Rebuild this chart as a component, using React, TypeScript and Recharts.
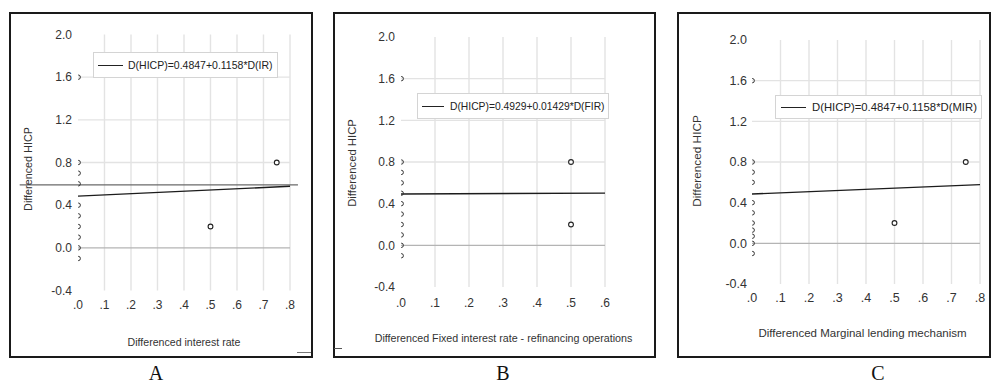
import React from 'react';
import { ScatterChart, Scatter, XAxis, YAxis, ReferenceLine, Legend } from 'recharts';

const FONT = '"Liberation Sans", Arial, Helvetica, sans-serif';
const SERIF = '"Liberation Serif", "Times New Roman", serif';

// ---------- shared ----------
const yTickValues = [-0.4, 0, 0.4, 0.8, 1.2, 1.6, 2.0];
const yGridValues = [0.8, 1.2, 1.6];
const yTitleText = 'Differenced HICP';

// ---------- Panel A ----------
const xTicksA = [0, 0.1, 0.2, 0.3, 0.4, 0.5, 0.6, 0.7, 0.8];
const edgeYA = [1.6, 0.8, 0.7, 0.6, 0.4, 0.3, 0.2, 0.1, 0.0, -0.1];
const innerXA = [0.5, 0.75];
const innerYA = [0.2, 0.8];
const fitXA = [0, 0.8];
const fitYA = [0.4847, 0.5773];
const legendA = 'D(HICP)=0.4847+0.1158*D(IR)';
const xTitleA = 'Differenced interest rate';
const strayA = { y: 0.59, x1: -0.22, x2: 0.83 };

// ---------- Panel B ----------
const xTicksB = [0, 0.1, 0.2, 0.3, 0.4, 0.5, 0.6];
const edgeYB = [1.6, 0.8, 0.7, 0.6, 0.5, 0.4, 0.3, 0.2, 0.1, 0.0, -0.1];
const innerXB = [0.5, 0.5];
const innerYB = [0.8, 0.2];
const fitXB = [0, 0.6];
const fitYB = [0.4929, 0.5015];
const legendB = 'D(HICP)=0.4929+0.01429*D(FIR)';
const xTitleB = 'Differenced Fixed interest rate - refinancing operations';

// ---------- Panel C ----------
const xTicksC = [0, 0.1, 0.2, 0.3, 0.4, 0.5, 0.6, 0.7, 0.8];
const edgeYC = [1.6, 0.8, 0.7, 0.6, 0.4, 0.3, 0.2, 0.13, 0.07, 0.0, -0.1];
const innerXC = [0.5, 0.75];
const innerYC = [0.2, 0.8];
const fitXC = [0, 0.8];
const fitYC = [0.4847, 0.5773];
const legendC = 'D(HICP)=0.4847+0.1158*D(MIR)';
const xTitleC = 'Differenced Marginal lending mechanism';

const panelLabels = ['A', 'B', 'C'];

// ---------- layout (page coordinates) ----------
const layoutA = {
  box: { l: 9, t: 12, w: 304, h: 346 },
  plot: { l: 78, r: 290, t: 34.5, b: 290.5 },
  tickFont: 12, yTickGap: 6, xTickCenter: 305,
  yTitle: { x: 28, y: 169, font: 10.8 },
  xTitle: { x: 184, y: 342, font: 10.6 },
  legend: { l: 93, t: 52, w: 185, h: 26, lineL: 5, lineW: 25, gap: 5, font: 10.5 },
  labelX: 156,
};
const layoutB = {
  box: { l: 333, t: 12, w: 323, h: 346 },
  plot: { l: 401, r: 605, t: 37, b: 287 },
  tickFont: 12, yTickGap: 6, xTickCenter: 303,
  yTitle: { x: 352, y: 163, font: 11.3 },
  xTitle: { x: 503.5, y: 338, font: 10.7 },
  legend: { l: 417, t: 93, w: 192, h: 26, lineL: 5, lineW: 22, gap: 6, font: 10.3 },
  labelX: 503,
};
const layoutC = {
  box: { l: 677, t: 12, w: 314, h: 346 },
  plot: { l: 752, r: 980, t: 40, b: 284 },
  tickFont: 12.5, yTickGap: 5, xTickCenter: 298,
  yTitle: { x: 697, y: 161, font: 11.8 },
  xTitle: { x: 862.5, y: 333, font: 11.5 },
  legend: { l: 775, t: 95, w: 207, h: 24, lineL: 6, lineW: 25, gap: 6, font: 11.3 },
  labelX: 878,
};

const Y_AXIS_W = 40;
const X_AXIS_H = 50;

const fmtX = (v: number) => v.toFixed(1).replace(/^0/, '');
const fmtY = (v: number) => v.toFixed(1);

const EdgeMark = (props: any) => {
  const { cx, cy } = props;
  return (
    <path
      d={`M${cx + 0.2},${cy - 2.2} A2.2,2.2 0 0 1 ${cx + 0.2},${cy + 2.2}`}
      fill="none"
      stroke="#333"
      strokeWidth={1}
    />
  );
};
const RingMark = (props: any) => {
  const { cx, cy } = props;
  return <circle cx={cx} cy={cy} r={2.4} fill="#fff" stroke="#222" strokeWidth={1.1} />;
};
const NoMark = () => <g />;

function Panel(props: any) {
  const { layout, xTicks, edgeY, innerX, innerY, fitX, fitY, legendText, xTitle, stray } = props;
  const { box, plot } = layout;
  const margin = {
    top: plot.t - box.t,
    left: plot.l - box.l - Y_AXIS_W,
    right: box.l + box.w - plot.r,
    bottom: box.t + box.h - plot.b - X_AXIS_H,
  };
  const edgePts = edgeY.map((y: number) => ({ x: 0, y }));
  const innerPts = innerX.map((x: number, i: number) => ({ x, y: innerY[i] }));
  const fitPts = fitX.map((x: number, i: number) => ({ x, y: fitY[i] }));
  const xMax = xTicks[xTicks.length - 1];
  const tickStyle = { fontSize: layout.tickFont, fill: '#333', fontFamily: FONT };

  const renderXTitle = () => (
    <text
      x={layout.xTitle.x - box.l}
      y={layout.xTitle.y - box.t}
      textAnchor="middle"
      dominantBaseline="central"
      fontFamily={FONT}
      fontSize={layout.xTitle.font}
      fill="#333"
    >
      {xTitle}
    </text>
  );
  const renderYTitle = () => {
    const x = layout.yTitle.x - box.l;
    const y = layout.yTitle.y - box.t;
    return (
      <text
        x={x}
        y={y}
        transform={`rotate(-90 ${x} ${y})`}
        textAnchor="middle"
        dominantBaseline="central"
        fontFamily={FONT}
        fontSize={layout.yTitle.font}
        fill="#333"
      >
        {yTitleText}
      </text>
    );
  };
  const lg = layout.legend;
  const renderLegend = () => (
    <div
      style={{
        boxSizing: 'border-box',
        width: lg.w,
        height: lg.h,
        border: '1px solid #d4d4d4',
        background: '#fff',
        display: 'flex',
        alignItems: 'center',
        fontFamily: FONT,
        fontSize: lg.font,
        color: '#222',
        whiteSpace: 'nowrap',
      }}
    >
      <span
        style={{
          display: 'inline-block',
          width: lg.lineW,
          height: 0,
          borderTop: '1.3px solid #222',
          marginLeft: lg.lineL - 1,
          marginRight: lg.gap,
        }}
      />
      <span>{legendText}</span>
    </div>
  );

  return (
    <div style={{ position: 'absolute', left: box.l, top: box.t, width: box.w, height: box.h }}>
      <ScatterChart width={box.w} height={box.h} margin={margin}>
        <XAxis
          type="number"
          dataKey="x"
          domain={[0, xMax]}
          ticks={xTicks}
          interval={0}
          tickFormatter={fmtX}
          axisLine={false}
          tickLine={false}
          tickSize={0}
          tickMargin={layout.xTickCenter - plot.b - 0.36 * layout.tickFont}
          height={X_AXIS_H}
          tick={tickStyle}
          label={renderXTitle}
        />
        <YAxis
          type="number"
          dataKey="y"
          domain={[-0.4, 2.0]}
          ticks={yTickValues}
          interval={0}
          tickFormatter={fmtY}
          axisLine={false}
          tickLine={false}
          tickSize={0}
          tickMargin={layout.yTickGap}
          width={Y_AXIS_W}
          tick={tickStyle}
          label={renderYTitle}
        />
        {xTicks.slice(1).map((v: number) => (
          <ReferenceLine key={'vx' + v} x={v} stroke="#e3e3e3" strokeWidth={1.4} />
        ))}
        {yGridValues.map((v) => (
          <ReferenceLine key={'hy' + v} y={v} stroke="#e3e3e3" strokeWidth={1.4} />
        ))}
        <ReferenceLine y={0} stroke="#b4b4b4" strokeWidth={1.3} />
        {stray && (
          <ReferenceLine
            segment={[
              { x: stray.x1, y: stray.y },
              { x: stray.x2, y: stray.y },
            ]}
            ifOverflow="visible"
            stroke="#6a6a6a"
            strokeWidth={1.2}
          />
        )}
        <Scatter
          data={fitPts}
          line={{ stroke: '#1c1c1c', strokeWidth: 1.4 }}
          shape={NoMark}
          legendType="none"
          isAnimationActive={false}
        />
        <Scatter data={edgePts} shape={EdgeMark} isAnimationActive={false} />
        <Scatter data={innerPts} shape={RingMark} isAnimationActive={false} />
        <Legend
          layout="horizontal"
          verticalAlign="middle"
          align="center"
          content={renderLegend}
          wrapperStyle={{ left: lg.l - box.l, top: lg.t - box.t, width: lg.w, height: lg.h }}
        />
      </ScatterChart>
    </div>
  );
}

const layouts = [layoutA, layoutB, layoutC];

export default function App() {
  return (
    <div style={{ position: 'absolute', left: 0, top: 0, width: 992, height: 385, background: '#fff', overflow: 'hidden' }}>
      <Panel layout={layoutA} xTicks={xTicksA} edgeY={edgeYA} innerX={innerXA} innerY={innerYA}
        fitX={fitXA} fitY={fitYA} legendText={legendA} xTitle={xTitleA} stray={strayA} />
      <Panel layout={layoutB} xTicks={xTicksB} edgeY={edgeYB} innerX={innerXB} innerY={innerYB}
        fitX={fitXB} fitY={fitYB} legendText={legendB} xTitle={xTitleB} />
      <Panel layout={layoutC} xTicks={xTicksC} edgeY={edgeYC} innerX={innerXC} innerY={innerYC}
        fitX={fitXC} fitY={fitYC} legendText={legendC} xTitle={xTitleC} />
      {layouts.map((L, i) => (
        <div
          key={'box' + i}
          style={{
            position: 'absolute',
            left: L.box.l,
            top: L.box.t,
            width: L.box.w,
            height: L.box.h,
            boxSizing: 'border-box',
            border: '2px solid #1a1a1a',
            pointerEvents: 'none',
          }}
        />
      ))}
      <svg width={992} height={385} style={{ position: 'absolute', left: 0, top: 0, pointerEvents: 'none' }}>
        <line x1={297} y1={352.5} x2={311} y2={352.5} stroke="#777" strokeWidth={1} />
        <line x1={334} y1={348.5} x2={342} y2={348.5} stroke="#555" strokeWidth={1} />
        {layouts.map((L, i) => (
          <text key={'lbl' + i} x={L.labelX} y={380} textAnchor="middle" fontFamily={SERIF} fontSize={20} fill="#111">
            {panelLabels[i]}
          </text>
        ))}
      </svg>
    </div>
  );
}
